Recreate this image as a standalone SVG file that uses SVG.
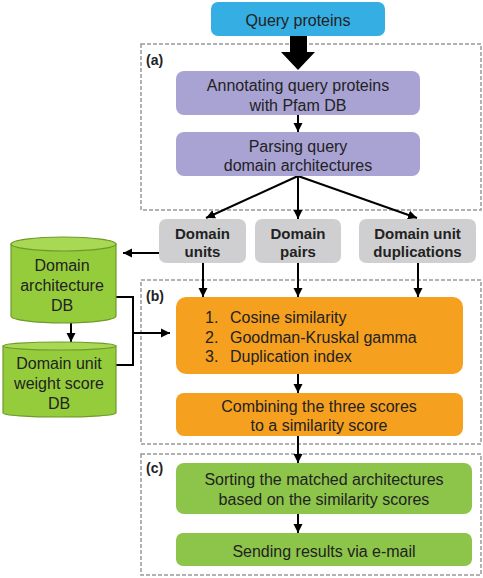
<svg xmlns="http://www.w3.org/2000/svg" width="483" height="578" viewBox="0 0 483 578">
<style>
text{font-family:"Liberation Sans",Arial,sans-serif;fill:#222;font-size:16px}
.c{text-anchor:middle}
.b{font-weight:bold;font-size:15px}
.lbl{font-weight:bold;font-size:14px}
.dash{fill:none;stroke:#999;stroke-width:1.5;stroke-dasharray:4,2}
.ln{fill:none;stroke:#000;stroke-width:2}
.arr{marker-end:url(#ah)}
.purple{fill:#A9A3D3}
.gray{fill:#CFCFD1}
.orange{fill:#F6A01F}
.green{fill:#8DC54A}
.cyl{fill:#95CC3C;stroke:#6E9A2A;stroke-width:1.2}
.cyltop{fill:#A9D855;stroke:#6E9A2A;stroke-width:1.2}
</style>
<defs>
<marker id="ah" markerUnits="userSpaceOnUse" markerWidth="10" markerHeight="10" refX="9" refY="5" orient="auto">
<path d="M0,0.5 L9,5 L0,9.5 Z" fill="#000"/>
</marker>
</defs>
<rect width="483" height="578" fill="#fff"/>
<g id="frames">
<rect class="dash" x="141" y="44" width="340" height="166"/>
<text class="lbl" x="146" y="65">(a)</text>
<rect class="dash" x="141" y="280" width="340" height="164"/>
<text class="lbl" x="146" y="301">(b)</text>
<rect class="dash" x="141" y="454" width="340" height="121"/>
<text class="lbl" x="146" y="473">(c)</text>
</g>
<g id="connectors">
<polygon points="290,36 307,36 307,52 315,52 298,70 281,52 290,52" fill="#000"/>
<line class="ln arr" x1="298" y1="115" x2="298" y2="132"/>
<line class="ln arr" x1="298" y1="176" x2="206" y2="218"/>
<line class="ln arr" x1="298" y1="176" x2="298" y2="219"/>
<line class="ln arr" x1="298" y1="176" x2="417" y2="218"/>
<line class="ln arr" x1="159" y1="253" x2="123" y2="253"/>
<line class="ln arr" x1="71" y1="323" x2="71" y2="342"/>
<path class="ln" d="M116,297 H133 V365 H116"/>
<line class="ln arr" x1="133" y1="333" x2="170" y2="333"/>
<line class="ln arr" x1="203" y1="263" x2="203" y2="297"/>
<line class="ln arr" x1="298" y1="263" x2="298" y2="297"/>
<line class="ln arr" x1="418" y1="263" x2="418" y2="297"/>
<line class="ln arr" x1="298" y1="374" x2="298" y2="393"/>
<line class="ln arr" x1="298" y1="436" x2="298" y2="463"/>
<line class="ln arr" x1="298" y1="514" x2="298" y2="533"/>
</g>
<g id="query">
<rect x="211" y="2" width="174" height="34" rx="7" fill="#35AEE3"/>
<text class="c" x="298" y="26">Query proteins</text>
</g>
<g id="annotate">
<rect class="purple" x="176" y="71" width="244" height="44" rx="8"/>
<text class="c" x="298" y="91">Annotating query proteins</text>
<text class="c" x="298" y="111">with Pfam DB</text>
</g>
<g id="parse">
<rect class="purple" x="176" y="132" width="244" height="44" rx="8"/>
<text class="c" x="298" y="152">Parsing query</text>
<text class="c" x="298" y="171">domain architectures</text>
</g>
<g id="units">
<rect class="gray" x="159" y="219" width="87" height="44" rx="7"/>
<text class="c b" x="202.5" y="238.5">Domain</text>
<text class="c b" x="202.5" y="256.5">units</text>
</g>
<g id="pairs">
<rect class="gray" x="255" y="219" width="86" height="44" rx="7"/>
<text class="c b" x="298" y="238.5">Domain</text>
<text class="c b" x="298" y="256.5">pairs</text>
</g>
<g id="dups">
<rect class="gray" x="359" y="219" width="117" height="44" rx="7"/>
<text class="c b" x="417.5" y="238.5">Domain unit</text>
<text class="c b" x="417.5" y="256.5">duplications</text>
</g>
<g id="archdb">
<path class="cyl" d="M11,244 V316 A52.5,7 0 0 0 116,316 V244 Z"/>
<ellipse class="cyltop" cx="63.5" cy="244" rx="52.5" ry="7"/>
<text class="c" x="62" y="271">Domain</text>
<text class="c" x="62" y="291">architecture</text>
<text class="c" x="62" y="311">DB</text>
</g>
<g id="weightdb">
<path class="cyl" d="M3,346 V413 A56.5,4 0 0 0 116,413 V346 Z"/>
<ellipse class="cyltop" cx="59.5" cy="346" rx="56.5" ry="4"/>
<text class="c" x="59" y="369">Domain unit</text>
<text class="c" x="59" y="389">weight score</text>
<text class="c" x="59" y="409">DB</text>
</g>
<g id="scores">
<rect class="orange" x="176" y="297" width="287" height="77" rx="10"/>
<text x="205" y="323">1.</text><text x="230" y="323">Cosine similarity</text>
<text x="205" y="343">2.</text><text x="230" y="343">Goodman-Kruskal gamma</text>
<text x="205" y="362">3.</text><text x="230" y="362">Duplication index</text>
</g>
<g id="combine">
<rect class="orange" x="176" y="393" width="287" height="43" rx="8"/>
<text class="c" x="319" y="412">Combining the three scores</text>
<text class="c" x="319" y="431">to a similarity score</text>
</g>
<g id="sort">
<rect class="green" x="176" y="463" width="296" height="51" rx="8"/>
<text class="c" x="324" y="485">Sorting the matched architectures</text>
<text class="c" x="324" y="505">based on the similarity scores</text>
</g>
<g id="send">
<rect class="green" x="176" y="533" width="296" height="33" rx="7"/>
<text class="c" x="324" y="557">Sending results via e-mail</text>
</g>
</svg>
